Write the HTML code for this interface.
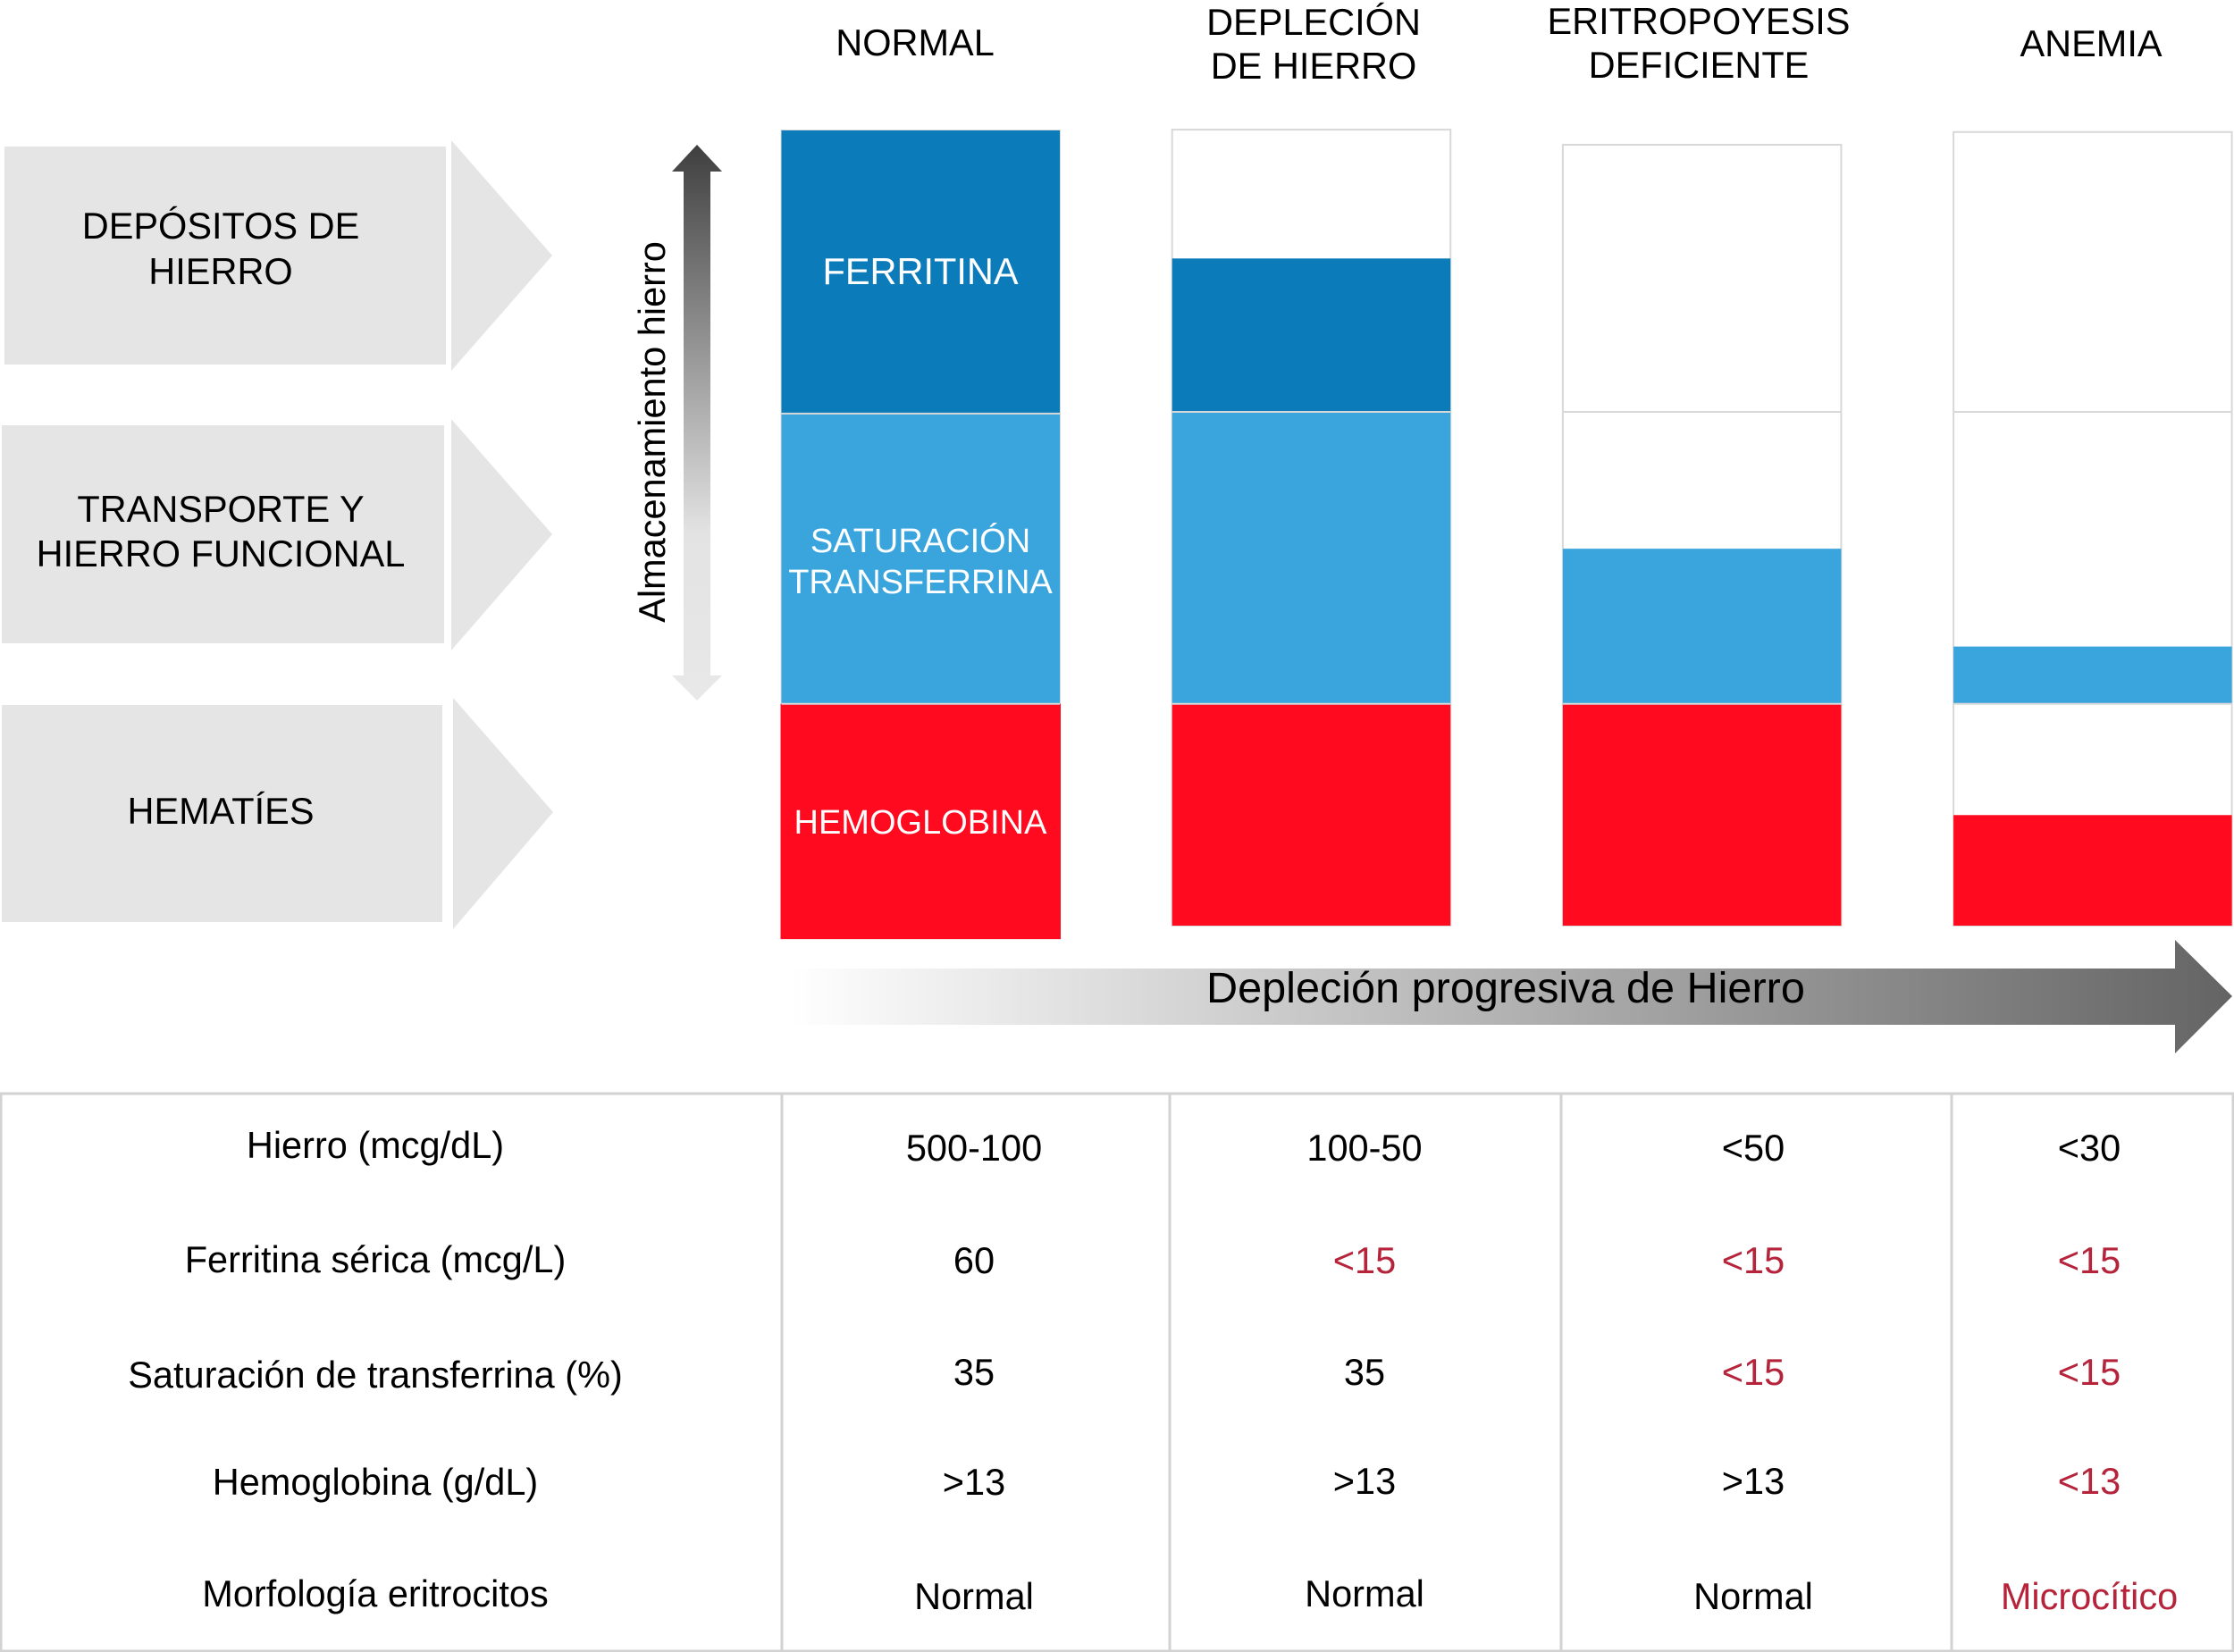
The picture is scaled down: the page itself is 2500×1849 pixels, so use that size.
<!DOCTYPE html>
<html lang="es">
<head>
<meta charset="utf-8">
<title>Depleción progresiva de hierro</title>
<style>
html,body{margin:0;padding:0;background:#fff;}
body{width:2500px;height:1849px;overflow:hidden;}
svg{display:block;}
text{font-family:"Liberation Sans",Arial,sans-serif;fill:#000;}
.c{text-anchor:middle;font-size:41.5px;}
.w{fill:#fff;}
.r{fill:#b5243a;}
.grid{stroke:#d2d2d2;stroke-width:3;fill:none;}
.band{fill:#e5e5e5;}
</style>
</head>
<body>
<svg width="2500" height="1849" viewBox="0 0 2500 1849" xmlns="http://www.w3.org/2000/svg">
<defs>
<linearGradient id="gv" gradientUnits="userSpaceOnUse" x1="0" y1="162" x2="0" y2="784">
<stop offset="0" stop-color="#3f3f3f"/><stop offset="0.7" stop-color="#e3e3e3"/><stop offset="1" stop-color="#e8e8e8"/>
</linearGradient>
<linearGradient id="gh" gradientUnits="userSpaceOnUse" x1="885" y1="0" x2="2497" y2="0">
<stop offset="0" stop-color="#ffffff"/><stop offset="1" stop-color="#646464"/>
</linearGradient>
</defs>

<g>
<rect class="band" x="5" y="164" width="494" height="244"/>
<polygon class="band" points="505,157 618,286 505,415"/>
<rect class="band" x="2" y="476" width="495" height="244"/>
<polygon class="band" points="505,469 618,598 505,728"/>
<rect class="band" x="2" y="789" width="493" height="243"/>
<polygon class="band" points="507,781 619,909 507,1040"/>
</g>
<g>
<text class="c" x="247" y="267">DEPÓSITOS DE</text>
<text class="c" x="247" y="318">HIERRO</text>
<text class="c" x="247" y="584">TRANSPORTE Y</text>
<text class="c" x="247" y="634">HIERRO FUNCIONAL</text>
<text class="c" x="247" y="922">HEMATÍES</text>
</g>

<polygon fill="url(#gv)" points="780,162 808,192 795,192 795,756 808,756 780,784 752,756 765,756 765,192 752,192"/>
<text class="c" transform="translate(744 483.5) rotate(-90)" x="0" y="0">Almacenamiento hierro</text>

<g>
<text class="c" x="1024" y="62">NORMAL</text>
<text class="c" x="1470" y="39">DEPLECIÓN</text>
<text class="c" x="1470" y="88">DE HIERRO</text>
<text class="c" x="1901" y="38">ERITROPOYESIS</text>
<text class="c" x="1901" y="87">DEFICIENTE</text>
<text class="c" x="2340" y="63">ANEMIA</text>
</g>

<g id="bars"></g>

<g>
<text class="c w" x="1030" y="318">FERRITINA</text>
<text class="c w" style="font-size:38px" x="1030" y="618">SATURACIÓN</text>
<text class="c w" style="font-size:38px" x="1030" y="664">TRANSFERRINA</text>
<text class="c w" style="font-size:38px" x="1030" y="933">HEMOGLOBINA</text>
</g>

<polygon fill="url(#gh)" points="885,1084 2434,1084 2434,1052 2498,1115 2434,1179 2434,1147 885,1147"/>
<text x="1350" y="1122" style="font-size:48.6px">Depleción progresiva de Hierro</text>

<g>
<rect class="grid" x="1" y="1224" width="2498" height="624"/>
<line class="grid" x1="875" y1="1224" x2="875" y2="1848"/>
<line class="grid" x1="1309" y1="1224" x2="1309" y2="1848"/>
<line class="grid" x1="1747" y1="1224" x2="1747" y2="1848"/>
<line class="grid" x1="2184" y1="1224" x2="2184" y2="1848"/>

<text class="c" x="420" y="1296">Hierro (mcg/dL)</text>
<text class="c" x="420" y="1424">Ferritina sérica (mcg/L)</text>
<text class="c" x="420" y="1553">Saturación de transferrina (%)</text>
<text class="c" x="420" y="1673">Hemoglobina (g/dL)</text>
<text class="c" x="420" y="1798">Morfología eritrocitos</text>

<text class="c" x="1090" y="1299">500-100</text>
<text class="c" x="1090" y="1425">60</text>
<text class="c" x="1090" y="1550">35</text>
<text class="c" x="1090" y="1673">&gt;13</text>
<text class="c" x="1090" y="1801">Normal</text>

<text class="c" x="1527" y="1299">100-50</text>
<text class="c r" x="1527" y="1425">&lt;15</text>
<text class="c" x="1527" y="1550">35</text>
<text class="c" x="1527" y="1672">&gt;13</text>
<text class="c" x="1527" y="1798">Normal</text>

<text class="c" x="1962" y="1299">&lt;50</text>
<text class="c r" x="1962" y="1425">&lt;15</text>
<text class="c r" x="1962" y="1550">&lt;15</text>
<text class="c" x="1962" y="1672">&gt;13</text>
<text class="c" x="1962" y="1801">Normal</text>

<text class="c" x="2338" y="1299">&lt;30</text>
<text class="c r" x="2338" y="1425">&lt;15</text>
<text class="c r" x="2338" y="1550">&lt;15</text>
<text class="c r" x="2338" y="1672">&lt;13</text>
<text class="c r" x="2338" y="1801">Microcítico</text>
</g>
</svg>

<script>
// Levels are relative iron-store units (0 = bar floor, 100 = full store).
const stages = ['normal', 'deplecion', 'eritropoyesis', 'anemia'];
const frameTop = [100, 100.1, 98.2, 99.8];
const ferritinBoundary = [64.4, 64.6, 64.6, 64.6];
const ferritinFill = [100, 83.9, 64.6, 64.6];
const saturationBoundary = [27.9, 27.9, 27.9, 27.9];
const saturationFill = [64.4, 64.6, 47.4, 35.1];
const hemoglobinFill = [27.9, 27.9, 27.9, 13.9];
const hemoglobinBase = [-1.7, 0, 0, 0];

const SVGNS = 'http://www.w3.org/2000/svg';
const barsGroup = document.getElementById('bars');

function yScale(level) { return 1036 - level * 8.9; }
function xScale(index) { return 874.5 + index * 437.2; }
const barWidth = 311.5;

function makeRect(x, top, bottom, width, fill, stroke) {
  const el = document.createElementNS(SVGNS, 'rect');
  el.setAttribute('x', x);
  el.setAttribute('y', yScale(top));
  el.setAttribute('width', width);
  el.setAttribute('height', Math.max(0, yScale(bottom) - yScale(top)));
  el.setAttribute('fill', fill);
  if (stroke) {
    el.setAttribute('stroke', stroke);
    el.setAttribute('stroke-width', '2');
  }
  barsGroup.appendChild(el);
  return el;
}

stages.forEach(function (stage, i) {
  const x = xScale(i);

  const frame = makeRect(x, frameTop[i], 0, barWidth, '#ffffff', '#d8d8d8');
  
  

  const ferritin = makeRect(x, ferritinFill[i], ferritinBoundary[i], barWidth, '#0c7bba');
  
  

  const saturation = makeRect(x, saturationFill[i], saturationBoundary[i], barWidth, '#3aa5dd');
  
  

  const pad = i === 0 ? 1 : 0;
  const hemoglobin = makeRect(x - pad, hemoglobinFill[i], hemoglobinBase[i], barWidth + 2 * pad, '#ff0a1e');
  
  

  [ferritinBoundary[i], saturationBoundary[i]].forEach(function (level, k) {
    const sep = document.createElementNS(SVGNS, 'line');
    sep.setAttribute('x1', x);
    sep.setAttribute('x2', x + barWidth);
    sep.setAttribute('y1', yScale(level));
    sep.setAttribute('y2', yScale(level));
    sep.setAttribute('stroke', '#d8d8d8');
    sep.setAttribute('stroke-width', '2');
    
    
    barsGroup.appendChild(sep);
  });
});
</script>
</body>
</html>
